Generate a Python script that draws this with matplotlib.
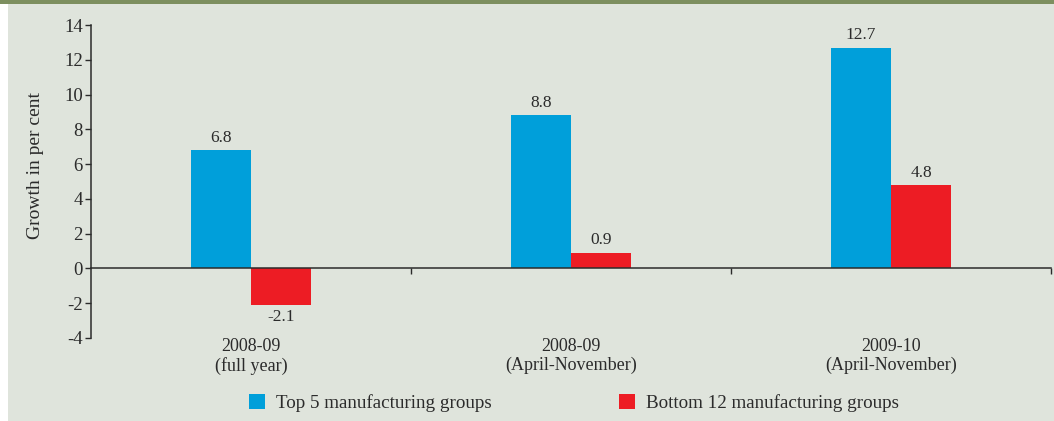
import numpy as np
import matplotlib.pyplot as plt
from matplotlib.patches import Rectangle, Patch

# --- data ---
categories = ["2008-09\n(full year)", "2008-09\n(April-November)", "2009-10\n(April-November)"]
top5 = [6.8, 8.8, 12.7]
bottom12 = [-2.1, 0.9, 4.8]
series_names = ["Top 5 manufacturing groups", "Bottom 12 manufacturing groups"]

blue = "#009fda"
red = "#ed1c24"
panel = "#dfe4dc"
band = "#7d8f5f"
txt = "#2b2b2b"

plt.rcParams['font.family'] = ['Liberation Serif', 'DejaVu Serif']
plt.rcParams['axes.unicode_minus'] = False

fig = plt.figure(figsize=(10.54, 4.21), dpi=100, facecolor="white")
# background panel and the top band
fig.patches.append(Rectangle((8 / 1054, 0), 1, 417 / 421, transform=fig.transFigure,
                             facecolor=panel, edgecolor="none", zorder=-2))
fig.patches.append(Rectangle((0, 417 / 421), 1, 4 / 421, transform=fig.transFigure,
                             facecolor=band, edgecolor="none", zorder=-1))

ax = fig.add_axes([91 / 1054, 83 / 421, 960 / 1054, 313 / 421])
ax.set_facecolor("none")

x = np.arange(len(categories))
w = 0.1875
ax.bar(x - w / 2, top5, w, color=blue, zorder=2)
ax.bar(x + w / 2, bottom12, w, color=red, zorder=2)

for xi, v in zip(x - w / 2, top5):
    ax.text(xi, v + 0.25, f"{v}", ha="center", va="bottom", fontsize=12.5, color=txt)
for xi, v in zip(x + w / 2, bottom12):
    if v < 0:
        ax.text(xi, v - 0.25, f"{v}", ha="center", va="top", fontsize=12.5, color=txt)
    else:
        ax.text(xi, v + 0.25, f"{v}", ha="center", va="bottom", fontsize=12.5, color=txt)

ax.set_xlim(-0.5, 2.5)
ax.set_ylim(-4, 14)
ax.set_yticks(np.arange(-4, 15, 2))
ax.set_xticks([0.5, 1.5, 2.5])
ax.set_xticklabels([])

for s in ["top", "right"]:
    ax.spines[s].set_visible(False)
ax.spines["bottom"].set_position(("data", 0))
ax.spines["left"].set_color(txt)
ax.spines["bottom"].set_color(txt)
ax.spines["left"].set_linewidth(1.1)
ax.spines["bottom"].set_linewidth(1.1)
ax.tick_params(axis="y", length=4, width=1, colors=txt, labelsize=13.5, pad=2)
ax.tick_params(axis="x", length=4, width=1, colors=txt, direction="out")

for xi, lab in zip(x, categories):
    ax.text(xi, -4.0, lab, ha="center", va="top", fontsize=13, color=txt, linespacing=1.15)

ax.set_ylabel("Growth in per cent", fontsize=14, color=txt)
ax.yaxis.set_label_coords(-0.049, 0.55)

handles = [Patch(facecolor=blue), Patch(facecolor=red)]
fig.legend(handles, series_names, loc="center", bbox_to_anchor=(574 / 1054, 18 / 421),
           ncol=2, frameon=False, fontsize=13.7, handlelength=0.85, handleheight=0.85,
           handletextpad=0.55, columnspacing=6.7, labelcolor=txt)

plt.savefig("out.png", dpi=100, facecolor=fig.get_facecolor())
